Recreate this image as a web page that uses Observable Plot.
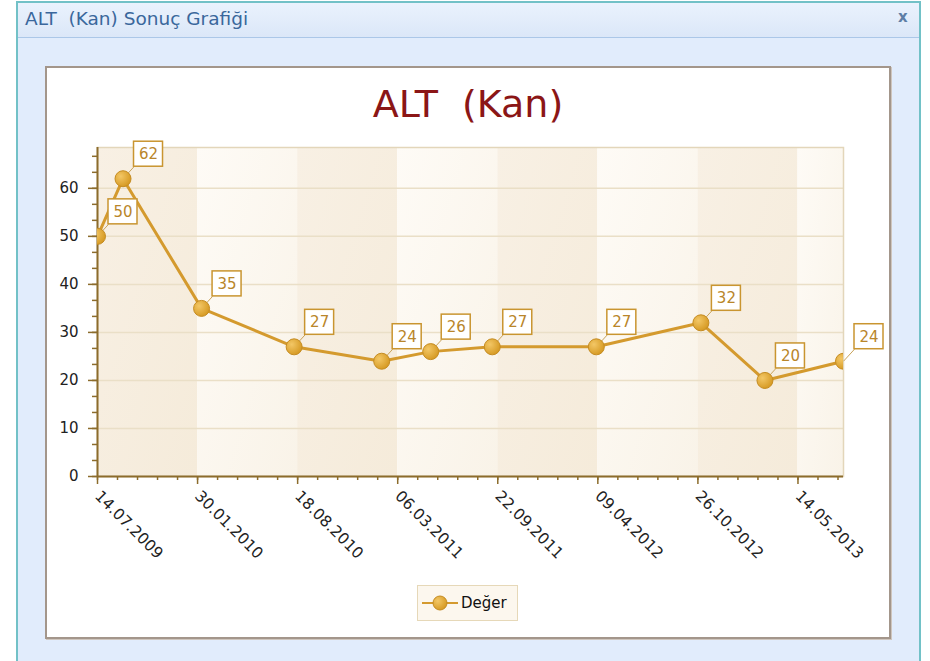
<!DOCTYPE html>
<html><head><meta charset="utf-8">
<script src="https://cdn.jsdelivr.net/npm/d3@7"></script>
<script src="https://cdn.jsdelivr.net/npm/@observablehq/plot@0.6"></script>
<style>
body{margin:0;background:#fff;font-family:"DejaVu Sans",sans-serif;}
#win{position:relative;width:930px;height:661px;overflow:hidden;background:#fff;}
#frame{position:absolute;left:16px;top:1px;width:905px;height:700px;box-sizing:border-box;border:2px solid #72c1c7;background:#e1ecfc;}
#bar{position:absolute;left:18px;top:3px;width:901px;height:34px;background:linear-gradient(#eaf2fd,#dbe7f8);border-bottom:1.5px solid #abc7e8;}
#bartext{position:absolute;left:25px;top:9px;font-size:18.5px;line-height:20px;color:#3a679c;white-space:pre;}
#close{position:absolute;left:898px;top:8px;font-size:15px;font-weight:bold;color:#5e7ea6;}
#panel{position:absolute;left:45px;top:66px;width:846px;height:573px;box-sizing:border-box;border:2px solid #a3968b;background:#fff;box-shadow:1px 1px 0 #cfc6be;}
#title{position:absolute;left:45px;top:85px;width:846px;text-align:center;font-size:38px;line-height:38px;color:#8b1616;white-space:pre;}
#chart{position:absolute;left:47px;top:140px;}
#legend{position:absolute;left:417px;top:585px;width:101px;height:36px;box-sizing:border-box;border:1.5px solid #e6d8b8;background:#fcf7ee;}
#legend svg{position:absolute;left:2px;top:7px;}
#legend span{position:absolute;left:43px;top:8px;font-size:15px;line-height:18px;color:#111;}
</style></head>
<body>
<div id="win">
  <div id="frame"></div>
  <div id="bar"></div>
  <div id="bartext">ALT  (Kan) Sonuç Grafiği</div>
  <div id="close">x</div>
  <div id="panel"></div>
  <div id="title">ALT  (Kan)</div>
  <div id="chart"></div>
  <div id="legend">
    <svg width="40" height="20"><line x1="2" y1="10" x2="38" y2="10" stroke="#d49a2e" stroke-width="2"/><circle cx="20" cy="10" r="7" fill="url(#legDot)" stroke="#c58c22"/>
    <defs><radialGradient id="legDot" cx="0.35" cy="0.35" r="0.75"><stop offset="0" stop-color="#f3c766"/><stop offset="1" stop-color="#d3951c"/></radialGradient></defs></svg>
    <span>Değer</span>
  </div>
</div>
<script>
// ---- data ----
const dates = ["2009-07-14","2009-09-03","2010-02-07","2010-08-11","2011-02-02","2011-05-11","2011-09-11","2012-04-06","2012-11-01","2013-03-09","2013-08-13"];
const values = [50, 62, 35, 27, 24, 26, 27, 27, 32, 20, 24];
const xTickLabels = ["14.07.2009","30.01.2010","18.08.2010","06.03.2011","22.09.2011","09.04.2012","26.10.2012","14.05.2013"];
const yTicks = [0, 10, 20, 30, 40, 50, 60];
const yMax = 68.5;

// ---- build ----
const parseISO = d3.utcParse("%Y-%m-%d");
const parseTick = d3.utcParse("%d.%m.%Y");
const fmtTick = d3.utcFormat("%d.%m.%Y");
const rows = dates.map((d, i) => ({date: parseISO(d), value: values[i]}));
const tickDates = xTickLabels.map(parseTick);
const xDomain = [rows[0].date, rows[rows.length - 1].date];
const bands = tickDates.map((d, i) => ({
  x1: d, x2: i + 1 < tickDates.length ? tickDates[i + 1] : xDomain[1],
  kind: i % 2 === 0 ? "dark" : "light"
}));
const minorX = d3.utcDay.range(tickDates[0], xDomain[1], 40);
const minorY = d3.range(0, yMax, 10 / 3);

const axisColor = "#8c6c2c";
const gold = "#d49a2e";
const labelColor = "#b9862a";

const defs = () => {
  const g = d3.create("svg:defs");
  const dark = g.append("linearGradient").attr("id", "bandDark").attr("x1", 0).attr("y1", 0).attr("x2", 1).attr("y2", 1);
  dark.append("stop").attr("offset", 0).attr("stop-color", "#f8f0e4");
  dark.append("stop").attr("offset", 1).attr("stop-color", "#f5ebda");
  const light = g.append("linearGradient").attr("id", "bandLight").attr("x1", 0).attr("y1", 0).attr("x2", 1).attr("y2", 1);
  light.append("stop").attr("offset", 0).attr("stop-color", "#fefbf6");
  light.append("stop").attr("offset", 1).attr("stop-color", "#f9f3e8");
  const dot = g.append("radialGradient").attr("id", "dotGrad").attr("cx", 0.35).attr("cy", 0.35).attr("r", 0.75);
  dot.append("stop").attr("offset", 0).attr("stop-color", "#f3c766");
  dot.append("stop").attr("offset", 1).attr("stop-color", "#d3951c");
  return g.node();
};

// leader line: from the point toward the label box corner
const leaderCurve = (context) => {
  let n = 0;
  return {
    lineStart() { n = 0; }, lineEnd() {}, areaStart() {}, areaEnd() {},
    point(x, y) { if (n++ === 0) { context.moveTo(x, y); context.lineTo(x + 11, y - 12); } }
  };
};

const chart = Plot.plot({
  width: 842, height: 430,
  marginLeft: 50, marginRight: 46, marginTop: 7, marginBottom: 94,
  style: {fontFamily: "DejaVu Sans, sans-serif", fontSize: "15px", background: "transparent", overflow: "visible"},
  x: {type: "utc", domain: xDomain, axis: null, label: null},
  y: {domain: [0, yMax], axis: null, label: null},
  marks: [
    defs,
    Plot.rect(bands, {x1: "x1", x2: "x2", y1: 0, y2: yMax, fill: d => d.kind === "dark" ? "url(#bandDark)" : "url(#bandLight)"}),
    Plot.gridY(yTicks.slice(1), {stroke: "#eadfc7", strokeOpacity: 1, strokeWidth: 1.5}),
    Plot.frame({stroke: "#e3d6ba", strokeWidth: 1.5}),
    Plot.ruleY([0], {stroke: axisColor, strokeWidth: 2}),
    Plot.ruleX([xDomain[0]], {stroke: axisColor, strokeWidth: 2}),
    Plot.axisX(minorX, {tickSize: 4, tickFormat: () => "", label: null, stroke: axisColor, strokeWidth: 1.5}),
    Plot.axisX(tickDates, {tickSize: 8, tickPadding: 9, tickRotate: 45, tickFormat: fmtTick, label: null, stroke: axisColor, strokeWidth: 1.5, fill: "#222", fontSize: 15.5}),
    Plot.axisY(minorY, {tickSize: 5, tickFormat: () => "", label: null, stroke: axisColor, strokeWidth: 1.5}),
    Plot.axisY(yTicks, {tickSize: 9, tickPadding: 10, label: null, stroke: axisColor, strokeWidth: 1.5, fill: "#222", fontSize: 15}),
    Plot.line(rows, {x: "date", y: "value", stroke: gold, strokeWidth: 3, clip: true}),
    Plot.link(rows, {x1: "date", y1: "value", x2: "date", y2: "value", curve: leaderCurve, stroke: "#c9a35a", strokeWidth: 1}),
    Plot.dot(rows, {x: "date", y: "value", r: 8, fill: "url(#dotGrad)", stroke: "#c58c22", strokeWidth: 1, clip: true}),
    Plot.rect(rows, {x1: "date", x2: "date", y1: "value", y2: "value", insetLeft: 11, insetRight: -40, insetTop: -37, insetBottom: 12, fill: "white", stroke: "#c99530", strokeWidth: 1.5}),
    Plot.text(rows, {x: "date", y: "value", text: d => String(d.value), dx: 25.5, dy: -24.5, fill: labelColor, fontSize: 15})
  ]
});
document.getElementById("chart").appendChild(chart);
</script>
</body></html>
